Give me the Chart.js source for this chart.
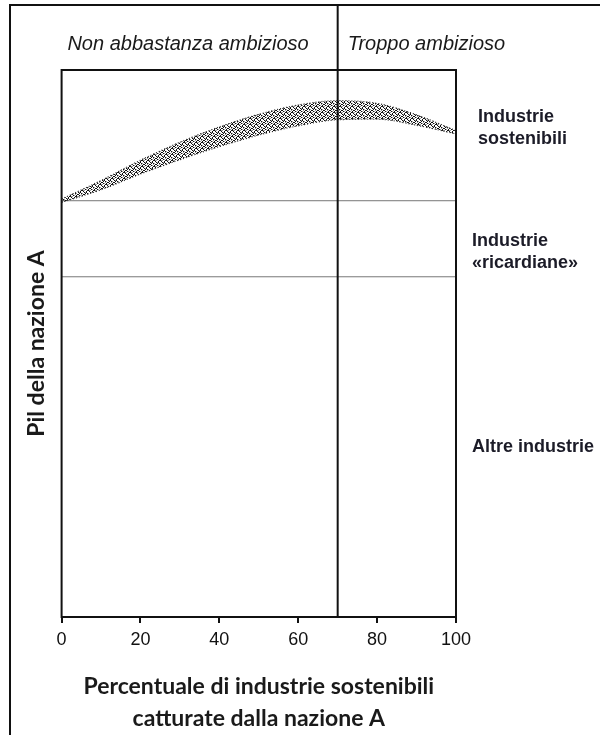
<!DOCTYPE html>
<html lang="it">
<head>
  <meta charset="UTF-8" />
  <title>Pil della nazione A</title>
  <style>
    body { margin: 0; padding: 0; background: #fff; }
    #wrap { width: 600px; height: 735px; position: relative; }
  </style>
</head>
<body>
  <div id="wrap"><canvas id="chart"></canvas></div>

  <script src="https://cdn.jsdelivr.net/npm/chart.js"></script>
  <script>
    // --- data ---
    const xTicks = [0, 20, 40, 60, 80, 100];
    const bandX     = [0,    10,   20,   30,   40,   50,   60,   70,   80,   90,   100];
    const bandUpper = [76.4, 79.8, 83.5, 86.8, 89.6, 91.9, 93.6, 94.4, 93.9, 91.8, 88.9];
    const bandLower = [75.8, 78.1, 81.0, 83.6, 86.0, 88.1, 89.8, 90.9, 91.0, 89.9, 88.3];
    const boundaryX = 70;
    const sectorLines = [76.1, 62.2];
    const regionLabels = ['Non abbastanza ambizioso', 'Troppo ambizioso'];
    const sectorLabels = [['Industrie', 'sostenibili'], ['Industrie', '\u00abricardiane\u00bb'], ['Altre industrie']];
    const sectorLabelY = [89.4, 66.8, 31.1];
    const xTitle = ['Percentuale di industrie sostenibili', 'catturate dalla nazione A'];
    const yTitle = 'Pil della nazione A';

    // stippled fill for the band
    function stipple() {
      const c = document.createElement('canvas');
      c.width = 6; c.height = 6;
      const g = c.getContext('2d');
      g.fillStyle = '#111';
      [[0, 0], [3, 1], [1, 3], [4, 4], [2, 5], [5, 2], [0, 2], [3, 4], [2, 0], [5, 5], [1, 1], [4, 3]]
        .forEach(([px, py]) => g.fillRect(px, py, 1, 1));
      g.fillStyle = 'rgba(40,40,40,0.45)';
      [[1, 0], [4, 1], [2, 3], [5, 4], [0, 4], [3, 2]].forEach(([px, py]) => g.fillRect(px, py, 1, 1));
      return g.createPattern(c, 'repeat');
    }

    const pts = (ys) => bandX.map((x, i) => ({ x: x, y: ys[i] }));
    const hline = (v) => ({
      data: [{ x: 0, y: v }, { x: 100, y: v }],
      showLine: true, borderColor: '#777', borderWidth: 1, pointRadius: 0, fill: false
    });

    // frame, boundary line and free labels
    const decor = {
      id: 'decor',
      afterDatasetsDraw(chart) {
        const { ctx, chartArea: a, scales: { x, y } } = chart;
        ctx.save();
        ctx.strokeStyle = '#111';
        ctx.lineWidth = 2;
        // outer frame (left + top)
        ctx.beginPath();
        ctx.moveTo(10, 735); ctx.lineTo(10, 5); ctx.lineTo(600, 5);
        ctx.stroke();
        // plot box
        ctx.strokeRect(a.left, a.top, a.right - a.left, a.bottom - a.top);
        // boundary at 70%
        const bx = x.getPixelForValue(boundaryX);
        ctx.beginPath();
        ctx.moveTo(bx, 5); ctx.lineTo(bx, a.bottom);
        ctx.stroke();

        ctx.fillStyle = '#1a1a1a';
        ctx.textBaseline = 'middle';
        ctx.font = 'italic 20px "Liberation Sans", Arial, sans-serif';
        ctx.textAlign = 'right';
        ctx.fillText(regionLabels[0], bx - 29, 44);
        ctx.textAlign = 'left';
        ctx.fillText(regionLabels[1], bx + 10, 44);

        ctx.font = 'bold 18px "Liberation Sans", Arial, sans-serif';
        ctx.fillStyle = '#1c1c28';
        sectorLabels.forEach((lines, i) => {
          const cy = y.getPixelForValue(sectorLabelY[i]);
          const x0 = i === 0 ? a.right + 22 : a.right + 16;
          lines.forEach((t, j) => {
            ctx.fillText(t, x0, cy + (j - (lines.length - 1) / 2) * 22);
          });
        });
        ctx.restore();
      }
    };

    new Chart(document.getElementById('chart'), {
      type: 'scatter',
      data: {
        datasets: [
          {
            data: pts(bandUpper), showLine: true, pointRadius: 0,
            borderColor: '#222', borderWidth: 1.2, borderDash: [1, 2],
            backgroundColor: stipple(), fill: '+1', cubicInterpolationMode: 'monotone'
          },
          {
            data: pts(bandLower), showLine: true, pointRadius: 0,
            borderColor: '#222', borderWidth: 1.2, borderDash: [1, 2],
            fill: false, cubicInterpolationMode: 'monotone'
          },
          hline(sectorLines[0]),
          hline(sectorLines[1])
        ]
      },
      options: {
        responsive: true,
        maintainAspectRatio: false,
        animation: false,
        layout: { padding: { left: 13, right: 144, top: 70, bottom: 0 } },
        plugins: { legend: { display: false }, tooltip: { enabled: false } },
        scales: {
          x: {
            type: 'linear', min: 0, max: 100,
            afterBuildTicks: (s) => { s.ticks = xTicks.map(v => ({ value: v })); },
            grid: { drawOnChartArea: false, drawTicks: true, tickLength: 6, color: '#111', lineWidth: 2 },
            border: { display: false },
            ticks: { padding: 6, color: '#111', font: { family: '"Liberation Sans", Arial, sans-serif', size: 18 } },
            title: {
              display: true, text: xTitle, color: '#1a1a1a',
              font: { family: 'Lato, "Open Sans", sans-serif', size: 23, weight: 'bold', lineHeight: 1.4 },
              padding: { top: 14, bottom: 0 }
            }
          },
          y: {
            type: 'linear', min: 0, max: 100,
            grid: { display: false },
            border: { display: false },
            ticks: { display: false },
            title: {
              display: true, text: yTitle, color: '#1a1a1a',
              font: { family: 'Lato, "Open Sans", sans-serif', size: 23, weight: 'bold', lineHeight: 1.2 },
              padding: { top: 10, bottom: 3 }
            }
          }
        }
      },
      plugins: [decor]
    });
  </script>
</body>
</html>
